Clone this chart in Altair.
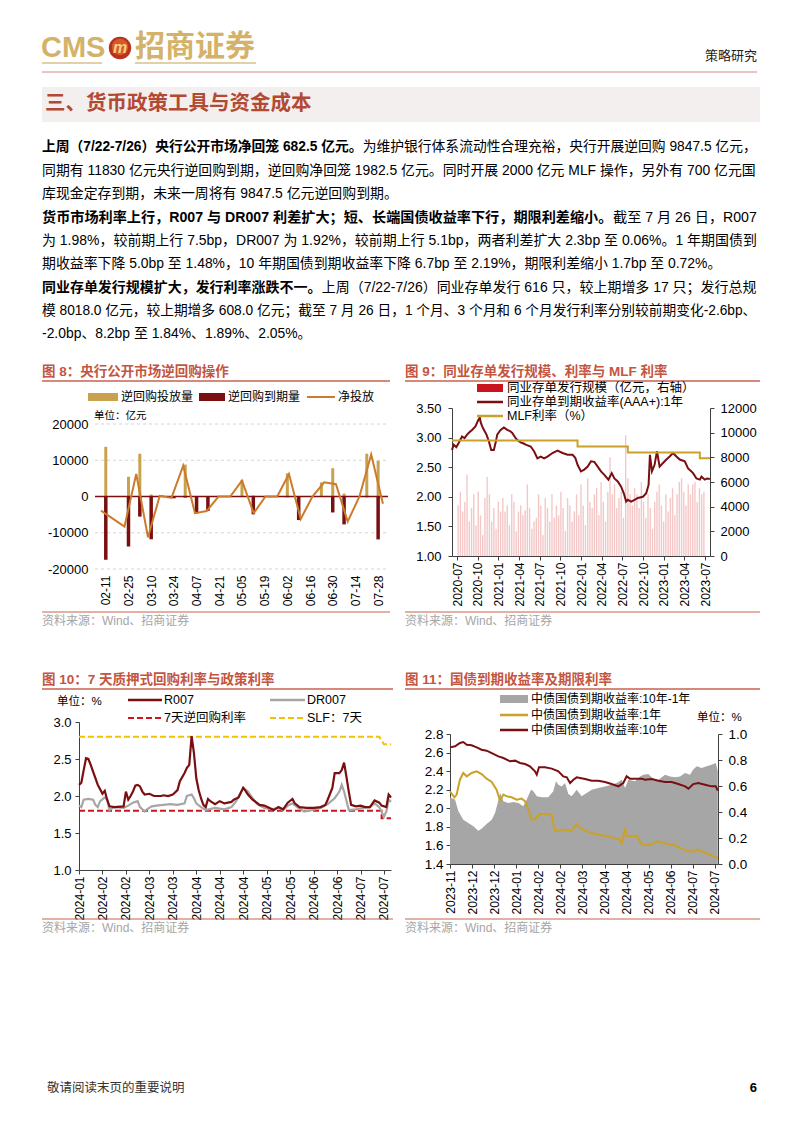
import json
import altair as alt
import pandas as pd

FONT = "Liberation Sans, Noto Sans CJK SC"
GOLD = "#C9A24D"
DRED = "#7A0F12"
ORANGE = "#CC7A2B"
LGOLD = "#C9A227"
TITLE_RED = "#C4553F"
LINE_RED = "#C8624C"
SRC_GRAY = "#A6A6A6"

# ---------------- data ----------------
# Fig 8: weekly reverse repo operations (亿元); week index 0 = 02-11, week 1 (02-18) has no data
f8_week = [0, 2, 3, 4, 5, 6, 7, 8, 9, 10, 11, 12, 13, 14, 15, 16, 17, 18, 19, 20, 21, 22, 23, 24]
f8_inj = [13700, 5450, 11800, 550, 300, 0, 8800, 0, 0, 0, 0, 4500, 300, 0, 0, 6400, 0, 0, 3900, 7800, 800, 0, 11800, 9847.5]
f8_mat = [-17450, -13800, -5550, -11800, -100, -500, -300, -4700, -4000, 0, 0, -100, -4900, 0, 0, -200, -6500, 0, 0, -4400, -7700, 0, -200, -11830]
f8_net = [-3900, -8300, 6250, -11250, 200, -400, 8500, -4600, -4000, 0, 0, 4400, -4600, 0, 0, 6200, -6200, 0, 3900, 3400, -6900, 0, 11600, -1982.5]
f8_labels = ["02-11", "02-25", "03-10", "03-24", "04-07", "04-21", "05-05", "05-19",
             "06-02", "06-16", "06-30", "07-14", "07-28"]
f8_ticks = [-20000, -10000, 0, 10000, 20000]

# Fig 9: months since 2020-07
f9_labels = ["2020-07", "2020-10", "2021-01", "2021-04", "2021-07", "2021-10", "2022-01",
             "2022-04", "2022-07", "2022-10", "2023-01", "2023-04", "2023-07"]
f9_issue = [4100, 5200, 3600, 4400, 6600, 2800, 3900, 5000, 2500, 5200,
            3300, 1700, 4700, 6400, 5000, 2800, 3900, 2200, 4400, 3600,
            4700, 3600, 4100, 2500, 5000, 4400, 2000, 3600, 4100, 3300,
            3700, 5800, 3900, 2200, 2800, 3100, 5000, 4100, 1700, 4700,
            3900, 2800, 5000, 3100, 4100, 3300, 5200, 3900, 2000, 4700,
            4100, 2800, 3600, 5000, 3300, 5800, 4100, 2500, 6300, 4400,
            3900, 5000, 5500, 3300, 6000, 4400, 2800, 5200, 8000, 5000,
            5800, 3900, 4700, 5200, 3100, 9800, 6300, 5000, 4100, 5500,
            5000, 3900, 6000, 4400, 3100, 5000, 3900, 2200, 4400, 5200,
            5800, 4100, 2800, 5000, 3600, 4700, 5500, 3300, 5000, 6000,
            6300, 5200, 4100, 5800, 5000, 5800, 6000, 4400, 5500, 5000, 5200]
f9_yld_m = [0, 0.23, 0.6, 0.93, 1.4, 1.75, 2.1, 2.5, 2.8, 3.27, 3.6, 3.88, 4.0, 4.21, 4.5, 4.81, 5.14, 5.47,
            5.84, 6.1, 6.31, 6.78, 7.24, 7.71, 8.1, 8.41, 8.88, 9.2, 9.58, 10.0, 10.28, 10.98, 11.45, 11.92,
            12.38, 12.85, 13.32, 14.02, 14.72, 15.42, 16.12, 16.82, 17.2, 17.52, 17.99, 18.46, 18.93, 19.39,
            19.86, 20.33, 20.79, 21.26, 21.82, 22.29, 22.66, 23.13, 23.6, 23.97, 24.3, 24.53, 25.0, 25.47,
            25.93, 26.64, 27.1, 27.43, 27.62, 27.9, 28.27, 28.6, 28.97, 29.44, 29.91, 30.37, 30.84, 31.31,
            31.78, 32.48, 32.94, 33.3, 33.64, 34.11, 34.58, 34.81, 35.28, 35.6, 35.98]
f9_yld_v = [2.79, 2.88, 2.84, 2.91, 3.02, 2.99, 3.05, 3.10, 3.13, 3.19, 3.28, 3.34, 3.26, 3.19, 3.12, 3.05, 2.94, 2.79,
            2.79, 2.92, 3.05, 3.13, 3.17, 3.13, 3.11, 3.08, 2.99, 2.95, 2.92, 2.90, 2.88, 2.85, 2.77, 2.65,
            2.68, 2.65, 2.68, 2.74, 2.78, 2.74, 2.71, 2.71, 2.66, 2.54, 2.43, 2.46, 2.51, 2.60,
            2.59, 2.51, 2.43, 2.37, 2.29, 2.40, 2.31, 2.26, 2.17, 2.06, 1.92, 1.95, 1.92, 1.95,
            1.98, 2.00, 2.06, 2.20, 2.71, 2.43, 2.54, 2.77, 2.51, 2.57, 2.63, 2.68, 2.74, 2.68,
            2.63, 2.60, 2.48, 2.44, 2.40, 2.31, 2.29, 2.34, 2.29, 2.31, 2.30]
f9_mlf_m = [0, 17.52, 17.52, 24.53, 24.53, 34.58, 34.58, 36]
f9_mlf_v = [2.95, 2.95, 2.85, 2.85, 2.75, 2.75, 2.65, 2.65]

# Fig 10: trading-day index (10 days between labels)
f10_labels = ["2024-01", "2024-02", "2024-02", "2024-03", "2024-03", "2024-04", "2024-04",
              "2024-04", "2024-05", "2024-05", "2024-06", "2024-06", "2024-07", "2024-07"]
f10_r_d = [0, 1, 2, 3, 4, 5, 6, 7, 8, 9, 10, 11, 12, 13, 15, 19, 20, 21, 22, 23, 24, 25, 26, 27, 28, 30, 32, 35,
           36, 38, 40, 42, 43, 45, 46, 47, 48, 49, 50, 51, 52, 53, 54, 55, 56, 58, 60, 62, 65, 66, 68, 70,
           71, 72, 74, 77, 79, 81, 83, 85, 87, 89, 91, 92, 94, 97, 100, 103, 105, 106, 108, 109, 111, 112,
           113, 114, 115, 116, 118, 120, 122, 124, 126, 128, 129, 131, 132, 133]
f10_r_v = [2.15, 2.18, 2.35, 2.51, 2.50, 2.42, 2.33, 2.24, 2.15, 2.09, 2.03, 2.07, 1.95, 1.86, 1.85, 1.86, 2.06,
           1.95, 2.00, 2.06, 2.14, 2.15, 2.13, 2.06, 2.02, 2.03, 2.00, 2.00, 2.01, 2.00, 2.02, 2.08, 2.20,
           2.31, 2.38, 2.42, 2.81, 2.58, 2.24, 2.08, 1.97, 1.88, 1.85, 1.96, 1.93, 1.89, 1.93, 1.90, 1.92,
           1.95, 1.98, 2.11, 2.07, 2.02, 1.95, 1.88, 1.87, 1.84, 1.81, 1.85, 1.82, 1.91, 1.96, 1.90, 1.85,
           1.84, 1.84, 1.85, 1.88, 1.95, 2.11, 2.31, 2.31, 2.35, 2.45, 2.26, 2.06, 1.88, 1.86, 1.87, 1.85,
           1.85, 1.94, 1.91, 1.87, 1.85, 2.02, 1.98]
f10_dr_d = [0, 1, 2, 4, 6, 7, 8, 9, 11, 12, 13, 15, 19, 21, 23, 25, 26, 28, 29, 31, 33, 36, 39, 42, 45, 46,
            48, 49, 50, 52, 54, 58, 62, 65, 67, 70, 72, 74, 76, 79, 82, 85, 87, 89, 91, 93, 96, 99, 103,
            106, 109, 111, 112, 113, 115, 118, 121, 124, 126, 128, 130, 131, 132, 133]
f10_dr_v = [1.87, 1.85, 1.95, 1.96, 1.95, 1.88, 1.85, 1.93, 1.98, 1.95, 1.81, 1.85, 1.84, 1.87, 1.91, 1.93,
            1.85, 1.79, 1.82, 1.86, 1.87, 1.88, 1.89, 1.88, 1.90, 2.00, 2.02, 1.97, 1.90, 1.85, 1.81, 1.84,
            1.82, 1.85, 1.93, 2.11, 2.06, 1.97, 1.89, 1.84, 1.82, 1.84, 1.81, 1.87, 1.90, 1.85, 1.79, 1.81,
            1.84, 1.89, 1.97, 2.06, 2.15, 2.06, 1.81, 1.82, 1.84, 1.85, 1.90, 1.85, 1.72, 1.79, 1.95, 1.92]
f10_rr_d = [0, 129, 129, 133]
f10_rr_v = [1.8, 1.8, 1.7, 1.7]
f10_slf_d = [0, 128, 130, 133]
f10_slf_v = [2.8, 2.8, 2.7, 2.7]

# Fig 11: trading-day index (10 days between labels)
f11_labels = ["2023-11", "2023-12", "2023-12", "2024-01", "2024-02", "2024-02", "2024-03",
              "2024-04", "2024-04", "2024-05", "2024-06", "2024-07", "2024-07"]
f11_10y_d = [0, 2.3, 4.5, 6.0, 7.6, 9.8, 12.1, 14.3, 16.6, 18.9, 21.9, 24.2, 27.2, 29.5, 31.7, 34.0, 36.2,
             38.5, 39.3, 40.3, 43.0, 46.1, 49.1, 51.3, 52.9, 54.4, 55.9, 57.4, 58.9, 61.2, 64.2, 67.2,
             70.2, 73.2, 76.3, 78.5, 80.0, 81.5, 84.6, 86.8, 88.3, 91.4, 94.4, 97.4, 100.4, 103.4, 106.5,
             108.0, 110.2, 112.5, 115.5, 118.5, 120.4, 121.3]
f11_10y_v = [2.656, 2.667, 2.703, 2.714, 2.685, 2.678, 2.656, 2.631, 2.620, 2.595, 2.559, 2.541, 2.506,
             2.513, 2.488, 2.477, 2.452, 2.398, 2.362, 2.441, 2.441, 2.427, 2.398, 2.344, 2.333, 2.272,
             2.308, 2.333, 2.326, 2.315, 2.297, 2.297, 2.283, 2.261, 2.236, 2.272, 2.344, 2.319, 2.319,
             2.319, 2.308, 2.315, 2.297, 2.283, 2.283, 2.261, 2.236, 2.211, 2.261, 2.272, 2.254, 2.236,
             2.236, 2.190]
f11_1y_d = [0, 2.0, 3.0, 4.5, 6.0, 7.6, 9.8, 12.1, 14.3, 16.6, 18.9, 21.1, 22.7, 24.2, 25.7, 27.9, 30.2,
            32.5, 34.0, 35.5, 37.0, 38.5, 40.8, 43.0, 46.1, 46.8, 47.6, 49.8, 52.1, 55.1, 57.4, 58.9, 61.2,
            64.2, 67.2, 70.2, 73.2, 77.0, 77.8, 79.3, 80.0, 82.3, 84.6, 86.8, 89.1, 91.4, 93.6, 96.6, 99.7,
            101.9, 104.9, 107.2, 109.5, 111.8, 114.0, 117.0, 119.3, 121.3]
f11_1y_v = [2.182, 2.118, 2.147, 2.308, 2.380, 2.344, 2.380, 2.398, 2.369, 2.319, 2.283, 2.200, 2.082,
            2.147, 2.129, 2.118, 2.093, 2.104, 2.075, 1.985, 1.877, 1.885, 1.938, 1.938, 1.931, 1.824,
            1.759, 1.759, 1.770, 1.759, 1.831, 1.788, 1.759, 1.734, 1.716, 1.705, 1.687, 1.662, 1.626,
            1.788, 1.698, 1.698, 1.705, 1.609, 1.601, 1.615, 1.644, 1.626, 1.609, 1.601, 1.565, 1.544,
            1.529, 1.555, 1.537, 1.508, 1.483, 1.465]
f11_sp_d = [0, 2.3, 3.8, 6.0, 8.3, 10.6, 12.8, 14.3, 16.6, 18.9, 20.4, 21.6, 22.7, 24.2, 26.4, 28.7, 31.0,
            33.2, 34.7, 36.7, 37.8, 39.3, 41.5, 44.5, 46.8, 48.0, 49.1, 50.6, 52.1, 53.6, 55.1, 57.4, 59.6,
            61.9, 64.2, 67.2, 70.2, 73.2, 75.5, 77.8, 79.3, 80.8, 83.8, 86.1, 87.6, 89.8, 92.1, 94.4, 97.4,
            99.7, 101.9, 104.2, 106.5, 108.7, 110.2, 111.8, 114.0, 116.3, 118.5, 120.4, 121.3]
f11_sp_v = [0.513, 0.495, 0.405, 0.341, 0.315, 0.290, 0.256, 0.272, 0.308, 0.341, 0.392, 0.469, 0.546,
            0.482, 0.469, 0.477, 0.469, 0.444, 0.495, 0.572, 0.559, 0.521, 0.513, 0.513, 0.559, 0.636,
            0.610, 0.597, 0.623, 0.538, 0.521, 0.572, 0.521, 0.546, 0.572, 0.585, 0.597, 0.610, 0.623,
            0.649, 0.585, 0.649, 0.636, 0.674, 0.687, 0.692, 0.656, 0.649, 0.687, 0.674, 0.667, 0.674,
            0.700, 0.687, 0.726, 0.751, 0.738, 0.751, 0.764, 0.777, 0.713]

# page text
PARA = [
    (147, True, [("上周（7/22-7/26）央行公开市场净回笼 682.5 亿元。", True),
                 ("为维护银行体系流动性合理充裕，央行开展逆回购 9847.5 亿元，", False)]),
    (171, True, [("同期有 11830 亿元央行逆回购到期，逆回购净回笼 1982.5 亿元。同时开展 2000 亿元 MLF 操作，另外有 700 亿元国", False)]),
    (194, False, [("库现金定存到期，未来一周将有 9847.5 亿元逆回购到期。", False)]),
    (218, True, [("货币市场利率上行，R007 与 DR007 利差扩大；短、长端国债收益率下行，期限利差缩小。", True),
                 ("截至 7 月 26 日，R007", False)]),
    (241, True, [("为 1.98%，较前期上行 7.5bp，DR007 为 1.92%，较前期上行 5.1bp，两者利差扩大 2.3bp 至 0.06%。1 年期国债到", False)]),
    (264, False, [("期收益率下降 5.0bp 至 1.48%，10 年期国债到期收益率下降 6.7bp 至 2.19%，期限利差缩小 1.7bp 至 0.72%。", False)]),
    (288, True, [("同业存单发行规模扩大，发行利率涨跌不一。", True),
                 ("上周（7/22-7/26）同业存单发行 616 只，较上期增多 17 只；发行总规", False)]),
    (311, True, [("模 8018.0 亿元，较上期增多 608.0 亿元；截至 7 月 26 日，1 个月、3 个月和 6 个月发行利率分别较前期变化-2.6bp、", False)]),
    (334, False, [("-2.0bp、8.2bp 至 1.84%、1.89%、2.05%。", False)]),
]

ASCII_W = {" ": 0.278, ".": 0.278, ",": 0.278, "/": 0.278, "-": 0.333, "%": 0.889, "b": 0.556,
           "p": 0.556, "M": 0.833, "L": 0.556, "F": 0.611, "R": 0.722, "D": 0.722}


def em(s):
    return sum((ASCII_W.get(c, 0.556) if ord(c) < 128 else 1.0) for c in s)


one = pd.DataFrame({"k": [0]})
SER_SCALE = alt.Scale(domain=["yld", "mlf", "1y", "10y"], range=[DRED, LGOLD, LGOLD, DRED])

# The whole page is one plot area whose origin is at page (8, 8); each panel's scales get pixel ranges.
PW, PH = 786, 1117


def px(v):
    return v - 8


layers_deco = []


def text(x, y, s, size=12, color="#000000", weight="normal", align="left", font=FONT, italic=False):
    kw = dict(text=s, fontSize=size, color=color, fontWeight=weight, align=align, baseline="middle", font=font)
    if italic:
        kw["fontStyle"] = "italic"
    layers_deco.append(alt.Chart(one).mark_text(**kw).encode(x=alt.value(px(x)), y=alt.value(px(y))))


def rect(x1, y1, x2, y2, color, opacity=1.0):
    layers_deco.append(alt.Chart(one).mark_rect(color=color, opacity=opacity).encode(
        x=alt.value(px(x1)), x2=alt.value(px(x2)), y=alt.value(px(y1)), y2=alt.value(px(y2))))


def rule(x1, x2, y, color, width=1.0, dash=None):
    kw = dict(color=color, strokeWidth=width)
    if dash:
        kw["strokeDash"] = dash
    layers_deco.append(alt.Chart(one).mark_rule(**kw).encode(
        x=alt.value(px(x1)), x2=alt.value(px(x2)), y=alt.value(px(y))))


def circle(x, y, size, color):
    layers_deco.append(alt.Chart(one).mark_circle(size=size, color=color, opacity=1).encode(
        x=alt.value(px(x)), y=alt.value(px(y))))


def label_expr(labels, step):
    return json.dumps(labels) + "[round(datum.value/" + str(step) + ")]"


def fig_decor(title, tx, ty, ux2, src_line_y, src_y):
    text(tx, ty, title, size=13.5, color=TITLE_RED, weight="bold")
    rule(tx, ux2, ty + 9, LINE_RED, 1.5)
    rule(tx, ux2, src_line_y, LINE_RED, 1.2)
    text(tx, src_y, "资料来源：Wind、招商证券", size=12, color=SRC_GRAY)


def ax_left(xpage, **kw):
    return alt.Axis(orient="left", offset=-px(xpage), title=None, grid=False, **kw)


def ax_right(xpage, **kw):
    return alt.Axis(orient="right", offset=px(xpage) - PW, title=None, grid=False, **kw)


def ax_bottom(ypage, **kw):
    return alt.Axis(orient="bottom", offset=px(ypage) - PH, title=None, grid=False, **kw)


# ---------------- header ----------------
rect(8, 8, 794, 1125, "#ffffff", 0)
text(41, 48, "CMS", size=29, color="#D4B26A", weight="bold", font="Liberation Sans")
rule(42, 102, 63, "#D9C08A", 1.5)
circle(120, 48, 500, "#B8321E")
circle(120, 47, 270, "#D9572F")
text(120, 48, "m", size=16, color="#F4D27A", weight="bold", align="center", italic=True)
text(135, 47, "招商证券", size=30, color="#D4B26A", weight="bold", font="Noto Sans CJK SC")
rule(135, 256, 63, "#D9C08A", 1.5)
text(757, 56, "策略研究", size=13, color="#222222", align="right")
rule(42, 757, 72, "#D48A7A", 1)
rect(42, 87, 760, 122, "#F3EFEF")
text(45, 104, "三、货币政策工具与资金成本", size=20.5, color="#B24A33", weight="bold", font="Noto Sans CJK SC")
for (py, just, segs) in PARA:
    total = sum(em(s) for s, _ in segs)
    size = 715.0 / total if just else 13.9
    x = 42.0
    for s, bold in segs:
        text(x, py, s, size=size, weight="bold" if bold else "normal")
        x += em(s) * size

# ---------------- Fig 8 ----------------
fig_decor("图 8：央行公开市场逆回购操作", 42, 372, 390, 612, 621)
rect(88, 393, 118, 401, GOLD)
text(121, 397, "逆回购投放量", size=12)
rect(199, 393, 225, 401, DRED)
text(228, 397, "逆回购到期量", size=12)
rule(307, 335, 397, ORANGE, 2)
text(338, 397, "净投放", size=12)
text(94, 416, "单位：亿元", size=10.5)

d8 = pd.DataFrame({"w": f8_week, "inj": f8_inj, "mat": f8_mat, "net": f8_net})
x8s = alt.Scale(domain=[-0.51, 24.43], range=[px(95), px(388)], nice=False, zero=False)
y8s = alt.Scale(domain=[-20000, 20000], range=[px(569), px(424)], nice=False, zero=False)
x8ax = ax_bottom(569, values=list(range(0, 25, 2)), labelExpr=label_expr(f8_labels, 2), labelAngle=-90,
                 domain=False, ticks=False, labelFontSize=12, labelPadding=6)
y8ax = ax_left(95, values=f8_ticks, labelExpr="'' + datum.value", domain=False, ticks=False,
               labelPadding=7, labelFontSize=13)
grid8 = alt.Chart(pd.DataFrame({"g": [t for t in f8_ticks if t != 0]})).mark_rule(
    color="#D4D4D4", strokeDash=[3, 3], strokeWidth=1).encode(
    y=alt.Y("g:Q", scale=y8s, axis=None), x=alt.value(px(95)), x2=alt.value(px(388)))
b8 = alt.Chart(d8).transform_calculate(z="0")
inj8 = b8.transform_filter("datum.inj > 0").mark_bar(size=3, color=GOLD).encode(
    x=alt.X("w:Q", scale=x8s, axis=x8ax), y=alt.Y("inj:Q", scale=y8s, axis=y8ax), y2="z:Q")
mat8 = b8.transform_filter("datum.mat < 0").mark_bar(size=3.5, color=DRED).encode(
    x=alt.X("w:Q", scale=x8s, axis=None), y=alt.Y("mat:Q", scale=y8s, axis=None), y2="z:Q")
zero8 = alt.Chart(pd.DataFrame({"zv": [0]})).mark_rule(color=DRED, strokeWidth=1.5).encode(
    y=alt.Y("zv:Q", scale=y8s, axis=None), x=alt.value(px(95)), x2=alt.value(px(388)))
net8 = alt.Chart(d8).mark_line(color=ORANGE, strokeWidth=2).encode(
    x=alt.X("w:Q", scale=x8s, axis=None), y=alt.Y("net:Q", scale=y8s, axis=None))

# ---------------- Fig 9 ----------------
fig_decor("图 9：同业存单发行规模、利率与 MLF 利率", 405, 372, 760, 612, 621)
n9 = len(f9_issue)
d9b = pd.DataFrame({"m": [(i + 0.5) * 36.0 / n9 for i in range(n9)], "v": f9_issue})
d9l = pd.concat([
    pd.DataFrame({"m": f9_yld_m, "v": f9_yld_v, "s": "yld", "o": range(len(f9_yld_m))}),
    pd.DataFrame({"m": f9_mlf_m, "v": f9_mlf_v, "s": "mlf", "o": range(len(f9_mlf_m))}),
])
x9s = alt.Scale(domain=[0, 36], range=[px(452), px(710)], nice=False, zero=False)
x9ax = ax_bottom(556, values=list(range(0, 37, 3)), labelExpr=label_expr(f9_labels, 3), labelAngle=-90,
                 domain=True, ticks=True, tickSize=4, labelFontSize=12, labelPadding=2)
bars9 = alt.Chart(d9b).transform_calculate(z="0").mark_bar(size=1.4, color="#F2BDBD", opacity=0.85).encode(
    x=alt.X("m:Q", scale=x9s, axis=x9ax),
    y=alt.Y("v:Q", scale=alt.Scale(domain=[0, 12000], range=[px(556), px(408)], nice=False),
            axis=ax_right(710, values=list(range(0, 12001, 2000)), format="d", domain=True, ticks=True,
                          tickSize=4, labelFontSize=13, labelPadding=6)),
    y2="z:Q")
lines9 = alt.Chart(d9l).mark_line(strokeWidth=2).encode(
    x=alt.X("m:Q", scale=x9s, axis=None),
    y=alt.Y("v:Q", scale=alt.Scale(domain=[1, 3.5], range=[px(556), px(408)], nice=False, zero=False),
            axis=ax_left(452, values=[1, 1.5, 2, 2.5, 3, 3.5], format=".2f", domain=True, ticks=True,
                         tickSize=4, labelFontSize=13, labelPadding=7)),
    color=alt.Color("s:N", scale=SER_SCALE, legend=None),
    order="o:Q")
rect(477, 384, 503, 392, "#C8141E")
text(507, 388, "同业存单发行规模（亿元，右轴）", size=12.5)
rule(477, 503, 402, DRED, 2.5)
text(507, 402, "同业存单到期收益率(AAA+):1年", size=12.5)
rule(477, 503, 416, LGOLD, 2.5)
text(507, 416, "MLF利率（%）", size=12.5)

# ---------------- Fig 10 ----------------
fig_decor("图 10：7 天质押式回购利率与政策利率", 42, 680, 393, 919, 928)
text(57, 702, "单位：%", size=11.5)
rule(128, 162, 700, DRED, 2.5)
text(164, 700, "R007", size=12.5)
rule(270, 305, 700, "#A6A6A6", 2.5)
text(307, 700, "DR007", size=12.5)
rule(128, 162, 718, "#D0141E", 2, [6, 3])
text(164, 718, "7天逆回购利率", size=12.5)
rule(270, 305, 718, "#F2C200", 2, [6, 3])
text(307, 718, "SLF：7天", size=12.5)

x10s = alt.Scale(domain=[0, 133], range=[px(79), px(391)], nice=False, zero=False)
y10s = alt.Scale(domain=[1.0, 3.0], range=[px(870), px(722)], nice=False, zero=False)
x10ax = ax_bottom(870, values=list(range(0, 131, 10)), labelExpr=label_expr(f10_labels, 10), labelAngle=-90,
                  domain=True, ticks=True, tickSize=4, labelFontSize=12, labelPadding=2)
y10ax = ax_left(79, values=[1.0, 1.5, 2.0, 2.5, 3.0], format=".1f", domain=True, ticks=True, tickSize=4,
                labelFontSize=13, labelPadding=4)


def l10(ds, vs, color, width=2.0, dash=None, axes=False):
    kw = dict(color=color, strokeWidth=width)
    if dash:
        kw["strokeDash"] = dash
    return alt.Chart(pd.DataFrame({"d": ds, "v": vs})).mark_line(**kw).encode(
        x=alt.X("d:Q", scale=x10s, axis=x10ax if axes else None),
        y=alt.Y("v:Q", scale=y10s, axis=y10ax if axes else None))


slf10 = l10(f10_slf_d, f10_slf_v, "#F2C200", 2, [6, 3], axes=True)
rr10 = l10(f10_rr_d, f10_rr_v, "#D0141E", 2, [6, 3])
dr10 = l10(f10_dr_d, f10_dr_v, "#A6A6A6", 2.2)
r10 = l10(f10_r_d, f10_r_v, DRED, 2.2)

# ---------------- Fig 11 ----------------
fig_decor("图 11：国债到期收益率及期限利率", 405, 680, 760, 919, 928)
rect(500, 695, 528, 703, "#A6A6A6")
text(531, 699, "中债国债到期收益率:10年-1年", size=12)
rule(500, 528, 715, LGOLD, 2.5)
text(531, 715, "中债国债到期收益率:1年", size=12)
rule(500, 528, 730, DRED, 2.5)
text(531, 730, "中债国债到期收益率:10年", size=12)
text(697, 718, "单位：%", size=11.5)

x11s = alt.Scale(domain=[0, 121.4], range=[px(450), px(718)], nice=False, zero=False)
x11ax = ax_bottom(864, values=list(range(0, 121, 10)), labelExpr=label_expr(f11_labels, 10), labelAngle=-90,
                  domain=True, ticks=True, tickSize=4, labelFontSize=12, labelPadding=2)
area11 = alt.Chart(pd.DataFrame({"d": f11_sp_d, "v": f11_sp_v})).mark_area(color="#A6A6A6", opacity=1).encode(
    x=alt.X("d:Q", scale=x11s, axis=x11ax),
    y=alt.Y("v:Q", scale=alt.Scale(domain=[0, 1.0], range=[px(864), px(734)], nice=False),
            axis=ax_right(718, values=[0, 0.2, 0.4, 0.6, 0.8, 1.0], format=".1f", domain=True, ticks=True,
                          tickSize=4, labelFontSize=13.5, labelPadding=6)))
d11l = pd.concat([
    pd.DataFrame({"d": f11_1y_d, "v": f11_1y_v, "s": "1y"}),
    pd.DataFrame({"d": f11_10y_d, "v": f11_10y_v, "s": "10y"}),
])
lines11 = alt.Chart(d11l).mark_line(strokeWidth=2).encode(
    x=alt.X("d:Q", scale=x11s, axis=None),
    y=alt.Y("v:Q", scale=alt.Scale(domain=[1.4, 2.8], range=[px(864), px(734)], nice=False, zero=False),
            axis=ax_left(450, values=[1.4, 1.6, 1.8, 2.0, 2.2, 2.4, 2.6, 2.8], format=".1f", domain=True,
                         ticks=True, tickSize=4, labelFontSize=13.5, labelPadding=3)),
    color=alt.Color("s:N", scale=SER_SCALE, legend=None))

# ---------------- footer ----------------
text(47, 1088, "敬请阅读末页的重要说明", size=12.5, color="#333333")
text(757, 1088, "6", size=13, weight="bold", align="right")

data_layers = [grid8, inj8, mat8, zero8, net8, bars9, lines9, slf10, rr10, dr10, r10, area11, lines11]
chart = alt.layer(*data_layers, *layers_deco).resolve_scale(
    x="independent", y="independent"
).resolve_axis(x="independent", y="independent").properties(
    width=PW, height=PH, padding=0, background="#ffffff"
).configure_view(stroke=None).configure_axis(
    labelFont=FONT, labelColor="#000000", domainColor="#404040", tickColor="#404040"
)

chart.save("out.html", embed_options={"renderer": "svg", "actions": False})
